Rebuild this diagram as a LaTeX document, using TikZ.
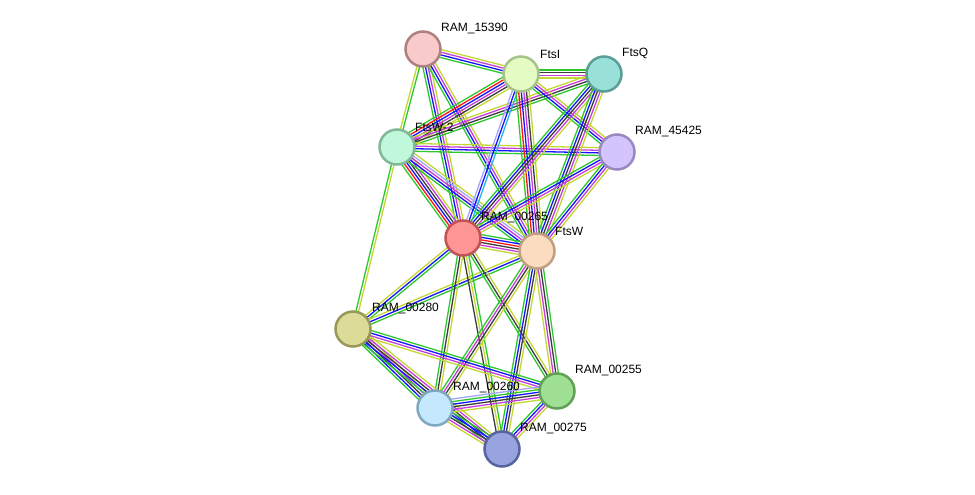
\documentclass[tikz,border=0pt]{standalone}
\usepackage{fontspec}
\setmainfont{Liberation Sans}
\usetikzlibrary{calc,backgrounds}

\definecolor{evg}{RGB}{45,200,45}
\definecolor{evr}{RGB}{255,20,20}
\definecolor{evb}{RGB}{20,20,255}
\definecolor{evc}{RGB}{40,180,230}
\definecolor{evm}{RGB}{200,60,220}
\definecolor{evk}{RGB}{60,60,60}
\definecolor{evy}{RGB}{195,215,50}
\definecolor{evh}{RGB}{165,165,250}

% node fill / border colours
\definecolor{f15390}{RGB}{248,202,202}\definecolor{d15390}{RGB}{176,128,128}
\definecolor{fftsi}{RGB}{228,252,196}\definecolor{dftsi}{RGB}{166,196,138}
\definecolor{fftsq}{RGB}{153,224,216}\definecolor{dftsq}{RGB}{90,158,150}
\definecolor{fftsw2}{RGB}{192,248,220}\definecolor{dftsw2}{RGB}{128,184,152}
\definecolor{f45425}{RGB}{212,196,252}\definecolor{d45425}{RGB}{154,136,192}
\definecolor{f00265}{RGB}{255,150,150}\definecolor{d00265}{RGB}{192,84,84}
\definecolor{fftsw}{RGB}{252,220,192}\definecolor{dftsw}{RGB}{192,160,128}
\definecolor{f00280}{RGB}{220,220,152}\definecolor{d00280}{RGB}{152,152,88}
\definecolor{f00255}{RGB}{160,224,148}\definecolor{d00255}{RGB}{96,160,88}
\definecolor{f00260}{RGB}{196,232,252}\definecolor{d00260}{RGB}{128,168,192}
\definecolor{f00275}{RGB}{152,164,224}\definecolor{d00275}{RGB}{88,100,160}

% bundle of evidence lines between two proteins
\newcommand{\linkset}[3]{%
  \foreach \c [count=\i] in {#3} {\xdef\nlines{\i}}%
  \foreach \c [count=\i] in {#3} {%
    \pgfmathsetmacro\off{(\i-(\nlines+1)/2)*2.6}%
    \draw[link,\c] ($(#1)!\off pt!90:(#2)$) -- ($(#2)!\off pt!-90:(#1)$);}}

\tikzset{
  prot/.style={circle,draw=d#1,fill=f#1,line width=2.5pt,minimum size=35pt,inner sep=0pt},
  lab/.style={anchor=south west,inner sep=0pt,font=\fontsize{12}{14}\selectfont},
  link/.style={line width=1.3pt},
}

\begin{document}
\begin{tikzpicture}[x=1pt,y=-1pt]
\useasboundingbox (0,0) rectangle (975,495);

\node[prot=15390] (r15390) at (423,49) {};
\node[prot=ftsi] (ftsi) at (521,74) {};
\node[prot=ftsq] (ftsq) at (604,74) {};
\node[prot=ftsw2] (ftsw2) at (397,147) {};
\node[prot=45425] (r45425) at (617,152) {};
\node[prot=00265] (r00265) at (463,238) {};
\node[prot=ftsw] (ftsw) at (537,251) {};
\node[prot=00280] (r00280) at (353,329) {};
\node[prot=00255] (r00255) at (557,391) {};
\node[prot=00260] (r00260) at (435,408) {};
\node[prot=00275] (r00275) at (502,449) {};

\node[lab] (l15390) at ($(r15390)+(18,-15)$) {RAM\_15390};
\node[lab] (lftsi) at ($(ftsi)+(19,-15)$) {FtsI};
\node[lab] (lftsq) at ($(ftsq)+(18,-15)$) {FtsQ};
\node[lab] (lftsw2) at ($(ftsw2)+(18,-15)$) {FtsW-2};
\node[lab] (l45425) at ($(r45425)+(18,-15)$) {RAM\_45425};
\node[lab] (l00265) at ($(r00265)+(18,-15)$) {RAM\_00265};
\node[lab] (lftsw) at ($(ftsw)+(18,-15)$) {FtsW};
\node[lab] (l00280) at ($(r00280)+(19,-15)$) {RAM\_00280};
\node[lab] (l00255) at ($(r00255)+(18,-15)$) {RAM\_00255};
\node[lab] (l00260) at ($(r00260)+(18,-15)$) {RAM\_00260};
\node[lab] (l00275) at ($(r00275)+(18,-15)$) {RAM\_00275};

\begin{scope}[on background layer]
\linkset{r15390}{ftsi}{evg,evb,evm,evy}
\linkset{r15390}{ftsw2}{evy,evg}
\linkset{r15390}{r00265}{evg,evb,evm,evy}
\linkset{r15390}{ftsw}{evg,evb,evm,evy}
\linkset{ftsi}{ftsq}{evy,evm,evk,evg}
\linkset{ftsi}{ftsw2}{evg,evr,evb,evm,evk,evy}
\linkset{ftsq}{ftsw2}{evy,evm,evk,evg}
\linkset{ftsi}{r45425}{evg,evb,evm,evy}
\linkset{ftsw2}{r45425}{evg,evb,evm,evy}
\linkset{ftsw2}{r00265}{evg,evr,evb,evk,evm,evy}
\linkset{ftsw2}{ftsw}{evg,evb,evm,evh,evy}
\linkset{ftsw2}{r00280}{evg,evy}
\linkset{ftsi}{r00265}{evh,evb,evc}
\linkset{ftsi}{ftsw}{evg,evr,evb,evm,evk,evy}
\linkset{ftsq}{r00265}{evg,evb,evk,evm,evy}
\linkset{ftsq}{ftsw}{evg,evb,evk,evm,evy}
\linkset{r45425}{r00265}{evg,evb,evm,evy}
\linkset{r45425}{ftsw}{evg,evb,evm,evy}
\linkset{r00265}{ftsw}{evy,evm,evk,evr,evb,evg}
\linkset{r00265}{r00280}{evy,evb,evg}
\linkset{ftsw}{r00280}{evy,evb,evg}
\linkset{r00265}{r00260}{evg,evk,evy}
\linkset{r00265}{r00275}{evk,evy,evg}
\linkset{r00265}{r00255}{evg,evk,evy}
\linkset{ftsw}{r00260}{evg,evm,evk,evy}
\linkset{ftsw}{r00275}{evg,evb,evk,evy}
\linkset{ftsw}{r00255}{evy,evm,evk,evg}
\linkset{r00280}{r00260}{evg,evb,evk,evm,evy}
\linkset{r00280}{r00275}{evg,evb,evk,evm,evy}
\linkset{r00280}{r00255}{evy,evm,evb,evg}
\linkset{r00260}{r00255}{evy,evm,evk,evb,evg,evh}
\linkset{r00260}{r00275}{evy,evm,evk,evb,evg}
\linkset{r00255}{r00275}{evg,evb,evm,evy}
\end{scope}
\end{tikzpicture}
\end{document}
